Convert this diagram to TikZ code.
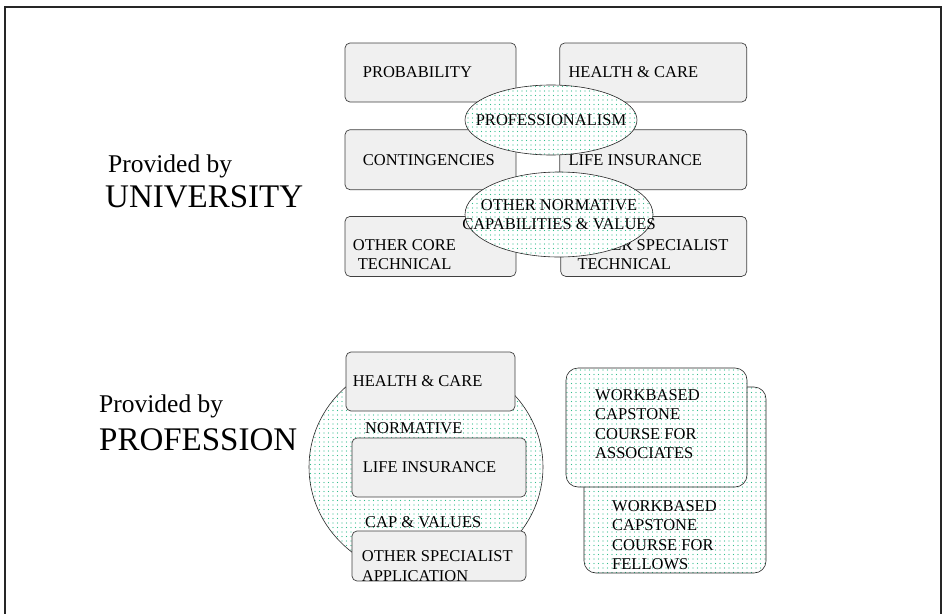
\documentclass[tikz,border=0pt]{standalone}
\usepackage{fontspec}
\setmainfont{Liberation Serif}
\usetikzlibrary{positioning,shapes.geometric,patterns}
\definecolor{dotgreen}{RGB}{50,190,140}
\pgfdeclarepatternformonly{sparsedots}{\pgfqpoint{-1pt}{-1pt}}{\pgfqpoint{1pt}{1pt}}{\pgfqpoint{4.5pt}{4.5pt}}{%
  \pgfpathcircle{\pgfqpoint{0pt}{0pt}}{0.55pt}\pgfusepath{fill}}
\tikzset{
  bx/.style={rectangle, rounded corners=5pt, draw=black!75, fill=black!6, line width=0.7pt, inner sep=0pt},
  dt/.style={draw=black!85, line width=0.6pt, preaction={fill=white}, pattern=sparsedots, pattern color=dotgreen, inner sep=0pt},
  el/.style={dt, ellipse},
  rb/.style={dt, rectangle, rounded corners=12pt},
  tx/.style={font=\fontsize{16.5}{19.5}\selectfont, inner sep=0pt, align=left},
  big/.style={font=\fontsize{33}{36}\selectfont, inner sep=0pt, anchor=base west},
  prov/.style={font=\fontsize{25.5}{28}\selectfont, inner sep=0pt, anchor=base west},
  node distance=26pt
}

\begin{document}
\begin{tikzpicture}[x=1pt,y=-1pt]
	\useasboundingbox (0,0) rectangle (942,613);
	\draw[line width=1.6pt, black!85] (5,625) -- (5,7) -- (941,7) -- (941,625);
	% university
	\node[prov] (provu) at (108,172) {Provided by};
	\node[big] (univ) at (105,207) {UNIVERSITY};
	\node[bx, minimum width=171pt, minimum height=59pt] (prob) at (430.5,72.5) {};
	\node[bx, minimum width=171pt, minimum height=60pt, below=27pt of prob] (cont) {};
	\node[bx, minimum width=171pt, minimum height=60pt, below=of cont] (core) {};
	\node[bx, minimum width=187pt, minimum height=59pt, right=43pt of prob] (hcare) {};
	\node[bx, minimum width=187pt, minimum height=60pt, right=43pt of cont] (life) {};
	\node[bx, minimum width=186pt, minimum height=60pt, right=44pt of core] (spec) {};
	\node[tx, right=18pt of prob.west] (probt) {PROBABILITY};
	\node[tx, right=9pt of hcare.west] (hcaret) {HEALTH \& CARE};
	\node[tx, right=18pt of cont.west] (contt) {CONTINGENCIES};
	\node[tx, right=9pt of life.west] (lifet) {LIFE INSURANCE};
	\node[tx, right=8pt of core.west, yshift=-8pt] (coret) {OTHER CORE\\\hspace*{5pt}TECHNICAL};
	\node[tx, right=17pt of spec.west, yshift=-8pt] (spect) {OTHER SPECIALIST\\TECHNICAL};
	%
	\node[el, minimum width=172pt, minimum height=70pt] (profe) at (551,120) {};
	\node[tx] (proft) at (profe) {PROFESSIONALISM};
	\node[el, minimum width=188pt, minimum height=85pt] (norme) at (559,214.5) {};
	\node[tx, align=center] (normt) at (norme) {OTHER NORMATIVE\\CAPABILITIES \& VALUES};
	% profession
	\node[prov] (provp) at (99,412) {Provided by};
	\node[big] (profn) at (99,450) {PROFESSION};
	\node[el, minimum width=234pt, minimum height=220pt] (ring) at (426,467) {};
	\node[bx, minimum width=169pt, minimum height=59pt] (bhcare) at (430.5,381.5) {};
	\node[tx, right=7pt of bhcare.west] (bhcaret) {HEALTH \& CARE};
	\node[tx, anchor=west] (normat) at (365,428) {NORMATIVE};
	\node[bx, minimum width=174pt, minimum height=59pt] (blife) at (439,467.5) {};
	\node[tx, right=11pt of blife.west] (blifet) {LIFE INSURANCE};
	\node[tx, anchor=west] (capv) at (365,522) {CAP \& VALUES};
	\node[bx, minimum width=174pt, minimum height=50pt] (bspec) at (439,556) {};
	\node[tx, right=10pt of bspec.west, yshift=-10pt] (bspect) {OTHER SPECIALIST\\APPLICATION};
	%
	\node[rb, minimum width=182pt, minimum height=186pt] (fell) at (675,480) {};
	\node[tx, anchor=west] (fellt) at (612,535) {WORKBASED\\CAPSTONE\\COURSE FOR\\FELLOWS};
	\node[rb, minimum width=181pt, minimum height=119pt] (assoc) at (656.5,427.5) {};
	\node[tx, anchor=west] (assoct) at (595,424) {WORKBASED\\CAPSTONE\\COURSE FOR\\ASSOCIATES};
\end{tikzpicture}
\end{document}
